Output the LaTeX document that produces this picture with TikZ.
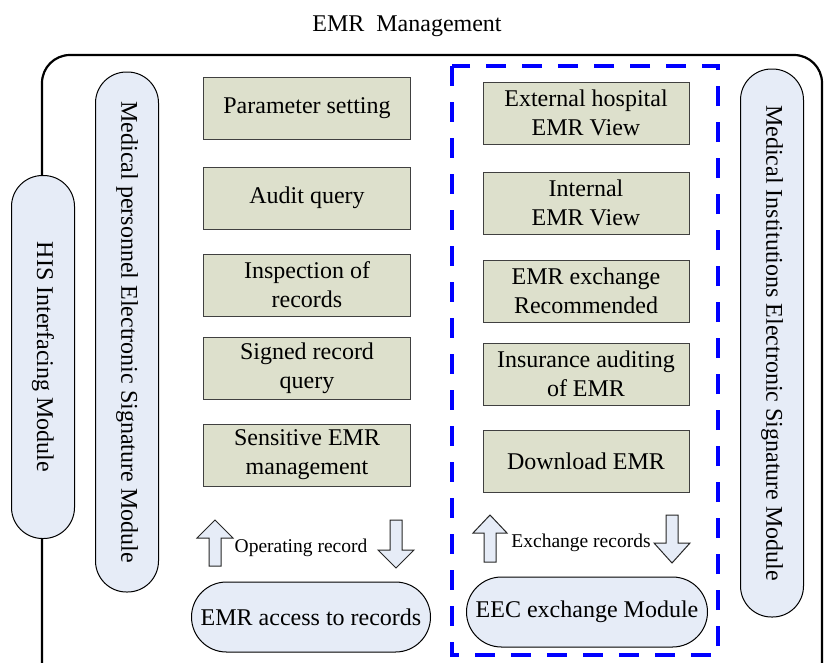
\documentclass[tikz,border=0pt]{standalone}
\usepackage{fontspec}
\setmainfont{Liberation Serif}
\definecolor{boxgreen}{RGB}{221,224,204}
\definecolor{pillblue}{RGB}{230,236,247}
\tikzset{
  funcbox/.style={draw=black!75, line width=1pt, fill=boxgreen, minimum width=207pt, minimum height=62pt,
    inner sep=0pt, align=center, font=\fontsize{24}{29}\selectfont},
  modpill/.style={draw, line width=1pt, fill=pillblue, rounded corners=31pt, minimum height=63pt,
    inner sep=0pt, font=\fontsize{24}{29}\selectfont},
  basepill/.style={draw, line width=1pt, fill=pillblue, rounded corners=35pt, minimum width=239pt,
    minimum height=70pt, inner sep=0pt, font=\fontsize{24}{29}\selectfont},
  flowlabel/.style={inner sep=0pt, font=\fontsize{19.5}{23}\selectfont},
  blockarrow/.style={draw=black!85, line width=1pt, fill=pillblue, line join=miter}
}
\begin{document}
\begin{tikzpicture}[x=1pt, y=-1pt]
	\useasboundingbox (0,0) rectangle (824,662);
	% frame
	\node (title) at (407,26) [inner sep=0pt, font=\fontsize{24}{29}\selectfont] {EMR\ \ Management};
	\draw[line width=2.2pt, rounded corners=28pt] (42,55) rectangle (822,700);
	\draw[blue, line width=4pt, dash pattern=on 20pt off 16pt] (452,66) rectangle (718,655);
	% side modules
	\node (his) at (43,357) [modpill, minimum width=363pt, rotate=-90] {HIS Interfacing Module};
	\node (medsig) at (127,332) [modpill, minimum width=520pt, rotate=-90] {Medical personnel Electronic Signature Module};
	\node (instsig) at (772,343) [modpill, minimum width=548pt, rotate=-90] {Medical Institutions Electronic Signature Module};
	% left column
	\node (param) at (307,108) [funcbox] {Parameter setting};
	\node (audit) at (307,198) [funcbox] {Audit query};
	\node (inspect) at (307,285) [funcbox] {Inspection of\\records};
	\node (signed) at (307,368) [funcbox] {Signed record\\query};
	\node (sensitive) at (307,455) [funcbox] {Sensitive EMR\\management};
	% right column
	\node (external) at (586,113) [funcbox, minimum width=206pt] {External hospital\\EMR View};
	\node (internal) at (586,203) [funcbox, minimum width=206pt] {Internal\\EMR View};
	\node (recommend) at (586,291) [funcbox, minimum width=206pt] {EMR exchange\\Recommended};
	\node (insurance) at (586,374) [funcbox, minimum width=206pt] {Insurance auditing\\of EMR};
	\node (download) at (586,461) [funcbox, minimum width=206pt] {Download EMR};
	% bottom modules
	\node (access) at (311,617) [basepill] {EMR access to records};
	\node (eec) at (587,612) [basepill, minimum width=241pt] {EEC exchange Module};
	\node (oprec) at (301,548) [flowlabel] {Operating record};
	\node (exrec) at (581,543) [flowlabel] {Exchange records};
	% block arrows
	\draw[blockarrow, shift={(215,520)}] (0,0) -- (18,18) -- (6,18) -- (6,46) -- (-6,46) -- (-6,18) -- (-18,18) -- cycle;
	\draw[blockarrow, shift={(396,568)}] (0,0) -- (18,-18) -- (6,-18) -- (6,-48) -- (-6,-48) -- (-6,-18) -- (-18,-18) -- cycle;
	\draw[blockarrow, shift={(490,515)}] (0,0) -- (17,18) -- (6,18) -- (6,47) -- (-6,47) -- (-6,18) -- (-17,18) -- cycle;
	\draw[blockarrow, shift={(672,563)}] (0,0) -- (18,-20) -- (6,-20) -- (6,-48) -- (-6,-48) -- (-6,-20) -- (-18,-20) -- cycle;
\end{tikzpicture}
\end{document}
